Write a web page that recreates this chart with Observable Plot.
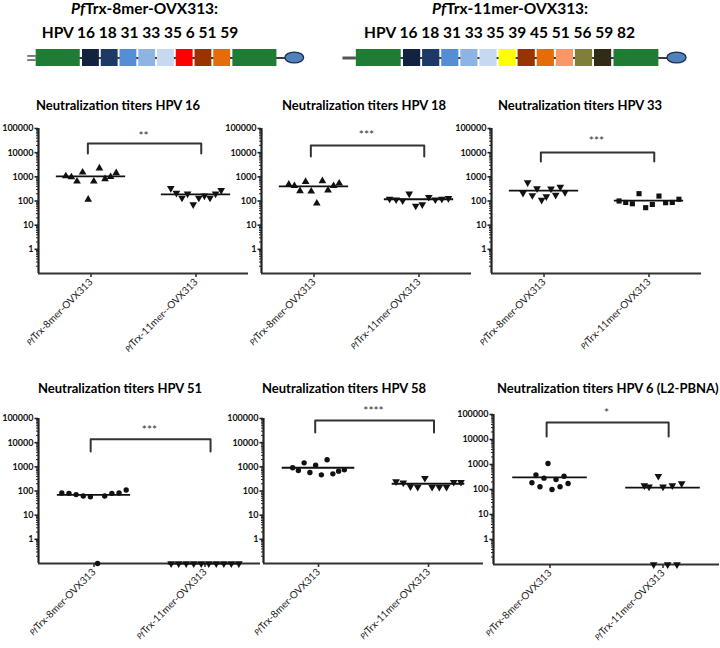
<!DOCTYPE html>
<html><head><meta charset="utf-8">
<script src="https://cdn.jsdelivr.net/npm/d3@7"></script>
<script src="https://cdn.jsdelivr.net/npm/@observablehq/plot@0.6"></script>
<style>
body{margin:0;background:#fff;}
#fig{position:relative;width:720px;height:648px;overflow:hidden;background:#fff;font-family:Lato,"Open Sans",sans-serif;}
#fig > svg, #fig > figure{position:absolute;margin:0;}
</style></head>
<body><div id="fig"></div>
<script>
// ---------------- data ----------------
const constructTitles = ["PfTrx-8mer-OVX313:", "PfTrx-11mer-OVX313:"];
const construct8Types = ["16","18","31","33","35","6","51","59"];
const construct11Types = ["16","18","31","33","35","39","45","51","56","59","82"];
const construct8Colors = ["#10233f","#1d3a66","#558ed5","#8eb4e3","#c6d9f1","#ff0000","#993300","#e46c0a"];
const construct11Colors = ["#10233f","#1d3a66","#558ed5","#8eb4e3","#c6d9f1","#ffff00","#993300","#e46c0a","#fb9766","#7f7f3a","#312b17"];

const groupLabels = ["PfTrx-8mer-OVX313", "PfTrx-11mer-OVX313"];
const groupLabelsHPV16 = ["PfTrx-8mer-OVX313", "PfTrx-11mer--OVX313"];
const panelTitles = [
  "Neutralization titers HPV 16", "Neutralization titers HPV 18", "Neutralization titers HPV 33",
  "Neutralization titers HPV 51", "Neutralization titers HPV 58", "Neutralization titers HPV 6 (L2-PBNA)"
];
const significance = ["**", "***", "***", "***", "****", "*"];

// neutralization titers, one value per animal (0 = below detection, drawn on the axis floor)
const hpv16_8mer  = [1070, 970, 650, 1530, 115, 650, 2270, 820, 1000, 1440];
const hpv16_11mer = [337, 213, 134, 200, 72, 134, 164, 134, 200, 277];
const hpv18_8mer  = [485, 425, 260, 630, 250, 80, 675, 277, 425, 535];
const hpv18_11mer = [122, 114, 103, 200, 63, 72, 144, 114, 122, 130];
const hpv33_8mer  = [215, 585, 170, 330, 110, 154, 320, 176, 380, 230];
const hpv33_11mer = [100, 87, 77, 201, 53, 72, 160, 85, 87, 118];
const hpv51_8mer  = [83, 80, 71, 62, 58, 0, 62, 80, 83, 110];
const hpv51_11mer = [0, 0, 0, 0, 0, 0, 0, 0, 0, 0];
const hpv58_8mer  = [910, 705, 1465, 583, 1172, 466, 1950, 513, 662, 751];
const hpv58_11mer = [247, 218, 153, 144, 340, 144, 144, 144, 232, 232];
const hpv6_8mer   = [185, 386, 128, 284, 1096, 100, 251, 128, 341, 174];
const hpv6_11mer  = [145, 128, 0, 341, 128, 0, 145, 0, 174];

const majorTicks = [1, 10, 100, 1000, 10000, 100000];
const yFloor = 0.1, yTop = 100000;

// significance bracket levels (titer units)
const bracketTop = [24000, 20000, 10200, 13800, 83000, 47900];
const bracketEnd = [9300, 6900, 4270, 4270, 26300, 13200];
const starLevel  = [62000, 67600, 39000, 42700, 257000, 145000];

// ---------------- styling / layout ----------------
const panelData = [
  [hpv16_8mer, hpv16_11mer], [hpv18_8mer, hpv18_11mer], [hpv33_8mer, hpv33_11mer],
  [hpv51_8mer, hpv51_11mer], [hpv58_8mer, hpv58_11mer], [hpv6_8mer, hpv6_11mer]
];
const sqrt3 = Math.sqrt(3);
const triDown = {draw(ctx, size){ const y = -Math.sqrt(size / (sqrt3 * 3)); ctx.moveTo(0, -y * 2); ctx.lineTo(-sqrt3 * y, y); ctx.lineTo(sqrt3 * y, y); ctx.closePath(); }};
const triUp = {draw(ctx, size){ const y = -Math.sqrt(size / (sqrt3 * 3)); ctx.moveTo(0, y * 2); ctx.lineTo(-sqrt3 * y, -y); ctx.lineTo(sqrt3 * y, -y); ctx.closePath(); }};
const symbols = [[triUp, triDown], [triUp, triDown], [triDown, "square"], ["circle", triDown], ["circle", triDown], ["circle", triDown]];
const symR = s => s === "circle" ? 2.7 : s === "square" ? 2.9 : 2.85;

const layout = [
  {X0: 38,  top: 110, unit: 105, mt: 18, ph: 145, mb: 85, spread: [0.48, 0.48], tx: 36,  ty: 110},
  {X0: 261, top: 110, unit: 105, mt: 18, ph: 145, mb: 85, spread: [0.48, 0.56], tx: 282, ty: 110},
  {X0: 491, top: 110, unit: 105, mt: 18, ph: 145, mb: 85, spread: [0.40, 0.57], tx: 498, ty: 110},
  {X0: 38,  top: 395, unit: 111, mt: 23, ph: 145, mb: 85, spread: [0.58, 0.61], tx: 38,  ty: 393},
  {X0: 263, top: 395, unit: 110, mt: 23, ph: 145, mb: 85, spread: [0.47, 0.59], tx: 262, ty: 393},
  {X0: 493, top: 395, unit: 113, mt: 19, ph: 150, mb: 84, spread: [0.32, 0.33], tx: 497, ty: 393}
];
const ML = 38, MR = 2;
const FONT = "Lato, 'Open Sans', sans-serif";
const fig = document.getElementById("fig");

const minorTicks = [];
for (let e = -1; e < 5; e++) for (let m = 2; m <= 9; m++) minorTicks.push(m * Math.pow(10, e));

function place(node, left, top) {
  node.style.position = "absolute";
  node.style.left = left + "px";
  node.style.top = top + "px";
  fig.appendChild(node);
}

// ---------------- text overlay ----------------
const overlay = d3.create("svg").attr("width", 720).attr("height", 648)
  .style("position", "absolute").style("left", "0px").style("top", "0px")
  .attr("font-family", FONT);
function addText(x, y, str, size, anchor, weight) {
  const t = overlay.append("text").attr("x", x).attr("y", y).attr("font-size", size)
    .attr("font-weight", weight).attr("text-anchor", anchor).attr("fill", "#000");
  if (str.startsWith("Pf")) {
    t.append("tspan").attr("font-style", "italic").text("Pf");
    t.append("tspan").text(str.slice(2));
  } else t.text(str);
}
addText(144.5, 14, constructTitles[0], 15.5, "middle", "bold");
addText(140, 37.5, "HPV " + construct8Types.join(" "), 15.5, "middle", "bold");
addText(510, 14, constructTitles[1], 15.5, "middle", "bold");
addText(499.5, 37.5, "HPV " + construct11Types.join(" "), 15.5, "middle", "bold");
panelTitles.forEach((t, k) => addText(layout[k].tx, layout[k].ty, t, 13, "start", "bold"));
fig.appendChild(overlay.node());

// ---------------- construct diagrams ----------------
const trxGreen = "#1e7c35";
function drawConstruct(types, colors, originPx, unitPx, svgLeft, svgWidth, doubleLead) {
  const n = types.length, trxLen = 2.35, gap = 0.12, bw = 0.9;
  const segs = [{x1: -gap - trxLen, x2: -gap, fill: trxGreen}]
    .concat(types.map((t, i) => ({x1: i, x2: i + bw, fill: colors[i], name: t})))
    .concat([{x1: n - 1 + bw + gap, x2: n - 1 + bw + gap + trxLen, fill: trxGreen}]);
  const cEnd = segs[segs.length - 1].x2;
  const oval = [{x1: cEnd + 0.45, x2: cEnd + 1.45}];
  const start = segs[0].x1;
  const marks = [
    Plot.ruleY([0.5], {x1: start, x2: oval[0].x1 + 0.5, stroke: "#3d3d3d", strokeWidth: 2}),
  ];
  if (doubleLead) {
    marks.push(Plot.ruleY([0.38, 0.62], {x1: start - 0.45, x2: start, stroke: "#444", strokeWidth: 1.4}));
  } else {
    marks.push(Plot.ruleY([0.5], {x1: start - 0.7, x2: start, stroke: "#555", strokeWidth: 3}));
  }
  marks.push(Plot.rect(segs, {x1: "x1", x2: "x2", y1: 0, y2: 1, fill: "fill"}));
  marks.push(Plot.rect(oval, {x1: "x1", x2: "x2", y1: 0.18, y2: 0.82, rx: 9.5, ry: 5.5, fill: "#4f81bd", stroke: "#1f2d4a", strokeWidth: 1.3}));
  const p = Plot.plot({
    width: svgWidth, height: 25, marginLeft: 0, marginRight: 0, marginTop: 4, marginBottom: 4,
    style: {background: "transparent", overflow: "visible"},
    x: {type: "linear", domain: [(svgLeft - originPx) / unitPx, (svgLeft + svgWidth - originPx) / unitPx], axis: null},
    y: {domain: [0, 1], axis: null},
    color: {type: "identity"},
    marks
  });
  place(p, svgLeft, 45);
}
drawConstruct(construct8Types, construct8Colors, 82, 18.75, 0, 330, true);
drawConstruct(construct11Types, construct11Colors, 403, 19.1, 330, 390, false);

// ---------------- panels ----------------
function drawPanel(k) {
  const L = layout[k];
  const vals = panelData[k];
  const pts = [];
  vals.forEach((arr, g) => {
    const step = arr.length > 1 ? L.spread[g] / (arr.length - 1) : 0;
    arr.forEach((v, i) => pts.push({g, v, x: g + (i - (arr.length - 1) / 2) * step, y: Math.max(v, yFloor)}));
  });
  const means = vals.map((arr, g) => ({g, m: Math.max(d3.mean(arr), yFloor)}));
  const br = [
    {x: -0.03, y: bracketEnd[k]}, {x: -0.03, y: bracketTop[k]},
    {x: 1.05, y: bracketTop[k]}, {x: 1.05, y: bracketEnd[k]}
  ];
  const labels = k === 0 ? groupLabelsHPV16 : groupLabels;
  const marks = [
    Plot.axisY({ticks: minorTicks, tickSize: 2, tickFormat: () => "", label: null, stroke: "#222", strokeWidth: 1}),
    Plot.axisY({ticks: majorTicks, tickSize: 3.5, tickPadding: 1.5, tickFormat: d => String(d), label: null,
      fontSize: 9, fontWeight: "bold", fill: "#111", stroke: "#222", strokeWidth: 1.6}),
    Plot.axisX({ticks: [0, 1], tickFormat: i => labels[i], tickRotate: -45, tickSize: 4, tickPadding: 3, label: null,
      fontSize: 10, fill: "#222", stroke: "#333", strokeWidth: 1.6}),
    Plot.ruleX([-0.5], {stroke: "#222", strokeWidth: 2.2}),
    Plot.ruleY([yFloor], {stroke: "#333", strokeWidth: 2.2}),
    Plot.line(br, {x: "x", y: "y", stroke: "#333", strokeWidth: 2}),
    Plot.text([significance[k]], {x: 0.5, y: starLevel[k], text: d => d, fontSize: 12, fill: "#333", dy: 3}),
    Plot.ruleY(means, {y: "m", x1: d => d.g - 0.33, x2: d => d.g + 0.33, stroke: "#111", strokeWidth: 1.8})
  ];
  [0, 1].forEach(g => {
    const s = symbols[k][g];
    marks.push(Plot.dot(pts.filter(d => d.g === g), {x: "x", y: "y", symbol: s, r: symR(s), fill: "#111", stroke: "none"}));
  });
  const p = Plot.plot({
    width: ML + 2 * L.unit + MR, height: L.mt + L.ph + L.mb,
    marginLeft: ML, marginRight: MR, marginTop: L.mt, marginBottom: L.mb,
    style: {background: "transparent", overflow: "visible", fontFamily: FONT},
    x: {type: "linear", domain: [-0.5, 1.5]},
    y: {type: "log", domain: [yFloor, yTop]},
    marks
  });
  d3.select(p).selectAll('g[aria-label="x-axis tick label"] text').each(function() {
    const s = this.textContent;
    if (s.startsWith("Pf")) {
      this.textContent = "";
      const sel = d3.select(this);
      sel.append("tspan").attr("font-style", "italic").attr("font-size", "8").text("Pf");
      sel.append("tspan").text(s.slice(2));
    }
  });
  place(p, L.X0 - ML, L.top);
}
panelData.forEach((_, k) => drawPanel(k));
</script></body></html>
